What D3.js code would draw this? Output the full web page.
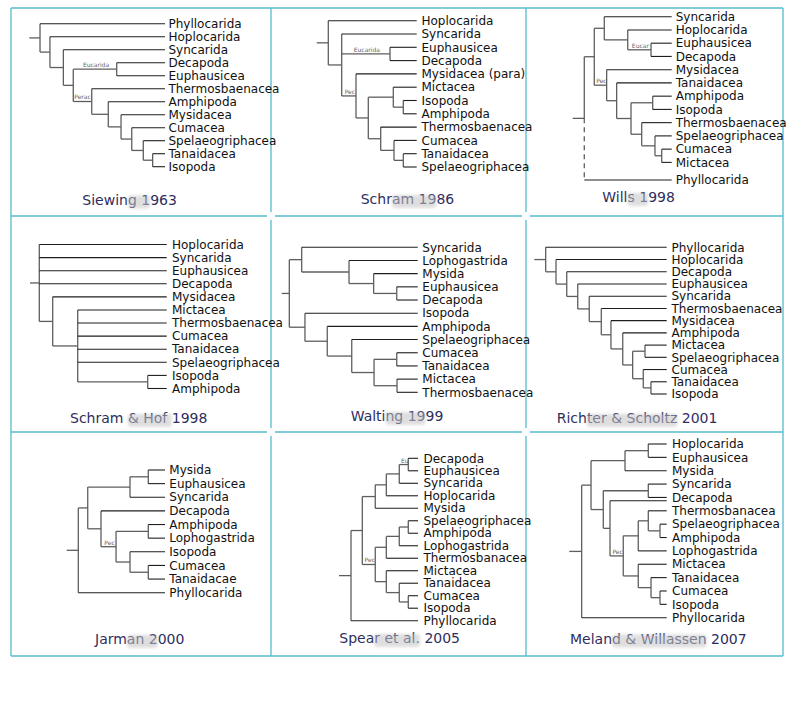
<!DOCTYPE html>
<html>
<head>
<meta charset="utf-8">
<script src="https://cdn.jsdelivr.net/npm/d3@7"></script>
<style>
  html, body { margin: 0; padding: 0; background: #fff; }
  svg { display: block; }
</style>
</head>
<body>
<svg id="chart" width="800" height="701"></svg>
<script>
// ---------------- DATA ----------------
const titles = [
  "Siewing 1963", "Schram 1986", "Wills 1998",
  "Schram & Hof 1998", "Walting 1999", "Richter & Scholtz 2001",
  "Jarman 2000", "Spear et al. 2005", "Meland & Willassen 2007"
];

// Newick trees; number after ':' on an internal node = relative node depth (0..100, leaves at 100)
// text after ')' = clade label written on the branch; "_" = unlabeled extra branch on previous row
const newickTrees = [
  "(Phyllocarida,(Hoplocarida,(Syncarida,((Decapoda,Euphausicea)Eucarida:64.4,(Thermosbaenacea,(Amphipoda,(Mysidacea,(Cumacea,(Spelaeogriphacea,(Tanaidacea,Isopoda):90.9):84.0):75.5):67.6):58.2)Perac.:46.0):32.4):25.1):15.2):7.9",
  "(Hoplocarida,(Syncarida,(Euphausicea,Decapoda)Eucarida:73.3,('Mysidacea (para)',((Mictacea,(Isopoda,Amphipoda):86.6):76.6,(Thermosbaenacea,(Cumacea,(Tanaidacea,Spelaeogriphacea):86.6):77.3):64):51.6)Pec:39.3):25):11.6",
  "(((Syncarida,(Hoplocarida,(Euphausicea,Decapoda)Eucar:79.1):55.6):31.9,(Mysidacea,(Tanaidacea,((Amphipoda,Isopoda):80.8,(Thermosbaenacea,(Spelaeogriphacea,(Cumacea,Mictacea):89.9):83.1):69.7):58.9):44.4)Pec:34.3):21.8,Phyllocarida):11.7",
  "(Hoplocarida,Syncarida,Euphausicea,Decapoda,(Mysidacea,(Mictacea,Thermosbaenacea,Cumacea,Tanaidacea,Spelaeogriphacea,(Isopoda,Amphipoda):86.1):34.9):16.6):6.8",
  "((Syncarida,(Lophogastrida,(Mysida,(Euphausicea,Decapoda):84.6):67.6):49.5):14.7,(Isopoda,(Amphipoda,(Spelaeogriphacea,((Cumacea,Tanaidacea):84.6,(Mictacea,Thermosbaenacea):84.8):67.9):51.5):33.5):17.1):5.6",
  "(Phyllocarida,(Hoplocarida,(Decapoda,(Euphausicea,(Syncarida,(Thermosbaenacea,(Mysidacea,(Amphipoda,((Mictacea,Spelaeogriphacea):83.6,(Cumacea,(Tanaidacea,Isopoda):88.1):82.3):74.3):66.8):57.9):50.6):41.5):32.8):24.5):16.4):8.6",
  "((((Mysida,Euphausicea):83,Syncarida):64.4,(Decapoda,((Amphipoda,Lophogastrida):83,(Isopoda,(Cumacea,Tanaidacae):83):64.4)Pec:50.2):34.9):21.4,Phyllocarida):11.8",
  "((((((Decapoda,Euphausicea)Eu:87.7,Syncarida):76.3,Hoplocarida):59.9,Mysida):45.9,((((Spelaeogriphacea,Amphipoda):87.7,Lophogastrida):76.3,Thermosbanacea):59.9,(Mictacea,(Tanaidacea,(Cumacea,Isopoda):87.7):76.3):59.9)Pec:45.9):29.5,Phyllocarida):15.2",
  "((((Hoplocarida,Euphausicea):81.1,Mysida):57.2,((Syncarida,Decapoda):81.1,(_,(((Thermosbanacea,(Spelaeogriphacea,Amphipoda):93.1):81.1,Lophogastrida):70.8,(Mictacea,(Tanaidacea,(Cumacea,Isopoda):93.1):83.9):70.8)Pec:55.4):41.8):34.9):22.3,Phyllocarida):12.7"
];

// extra row gap (in rows) before a leaf
const extraGaps = [{}, {}, {Phyllocarida: 0.33}, {}, {}, {}, {}, {}, {}];
// character range of each title covered by the grey smudge
const titleSmudge = [[6, 9], [4, 9], [4, 7], [7, 13], [5, 10], [4, 17], [4, 8], [4, 12], [5, 18]];

// ---------------- LAYOUT ----------------
const layout = [
  {stub: 29.3,  tip: 165,   text: 168.5, y0: 23.7,  y1: 166.7, tx: 82.3,  ty: 204.5, dashed: false},
  {stub: 316.7, tip: 416.7, text: 421.5, y0: 20.7,  y1: 167,   tx: 360.7, ty: 204,   dashed: false},
  {stub: 572.7, tip: 671.7, text: 675.7, y0: 16.7,  y1: 180,   tx: 602.3, ty: 202,   dashed: true},
  {stub: 30,    tip: 166.7, text: 172,   y0: 244.5, y1: 388.5, tx: 70,    ty: 423,   dashed: false},
  {stub: 281.7, tip: 417.7, text: 422.3, y0: 247.3, y1: 392.3, tx: 350.7, ty: 421,   dashed: false},
  {stub: 534.3, tip: 666.7, text: 671.5, y0: 247.3, y1: 394,   tx: 556.7, ty: 423,   dashed: false},
  {stub: 66.7,  tip: 165,   text: 169.3, y0: 470,   y1: 592.7, tx: 95,    ty: 644,   dashed: false},
  {stub: 339,   tip: 418,   text: 423.5, y0: 458.3, y1: 620.7, tx: 339.3, ty: 643,   dashed: false},
  {stub: 569.3, tip: 666.7, text: 672,   y0: 444,   y1: 617.7, tx: 570,   ty: 643.5, dashed: false}
];
const gridX = [11, 271, 526, 783];
const gridY = [8, 216, 432, 656];

const FONT = "'DejaVu Sans', 'Liberation Sans', sans-serif";
const LEAF_LINE = "#1e1e1e";
const INNER_LINE = "#5e5e5e";

// ---------------- PARSER ----------------
function parseNewick(s) {
  let i = 0;
  function readName() {
    if (s[i] === "'") {
      const j = s.indexOf("'", i + 1);
      const n = s.slice(i + 1, j);
      i = j + 1;
      return n;
    }
    let j = i;
    while (j < s.length && !",():".includes(s[j])) j++;
    const n = s.slice(i, j);
    i = j;
    return n;
  }
  function node() {
    const nd = {};
    if (s[i] === "(") {
      i++;
      nd.children = [];
      while (true) {
        nd.children.push(node());
        if (s[i] === ",") { i++; continue; }
        if (s[i] === ")") { i++; break; }
        break;
      }
      nd.label = readName();
    } else {
      nd.name = readName();
    }
    if (s[i] === ":") {
      i++;
      let j = i;
      while (j < s.length && /[0-9.]/.test(s[j])) j++;
      nd.depth = +s.slice(i, j);
      i = j;
    }
    return nd;
  }
  return node();
}

// ---------------- DRAW ----------------
const svg = d3.select("#chart");
const defs = svg.append("defs");
defs.append("filter").attr("id", "smudge")
  .attr("x", "-30%").attr("y", "-60%").attr("width", "160%").attr("height", "220%")
  .append("feGaussianBlur").attr("stdDeviation", 1.8);

// grid
const gridG = svg.append("g");
gridX.forEach(x => gridG.append("line")
  .attr("x1", x).attr("x2", x).attr("y1", gridY[0]).attr("y2", gridY[gridY.length - 1])
  .attr("stroke", "#55bccb").attr("stroke-width", 1.3));
gridY.forEach(y => gridG.append("line")
  .attr("x1", gridX[0]).attr("x2", gridX[gridX.length - 1]).attr("y1", y).attr("y2", y)
  .attr("stroke", "#55bccb").attr("stroke-width", 1.3));
gridX.slice(1, -1).forEach(x => gridY.slice(1, -1).forEach(y =>
  gridG.append("circle").attr("cx", x).attr("cy", y).attr("r", 4).attr("fill", "#fff")));

newickTrees.forEach((nw, p) => {
  const L = layout[p];
  const root = d3.hierarchy(parseNewick(nw));
  const gaps = extraGaps[p];

  // rows for leaves
  let r = 0, last = 0;
  root.leaves().forEach(leaf => {
    if (leaf.data.name === "_") {
      leaf.row = last + 0.25;
    } else {
      if (gaps[leaf.data.name]) r += gaps[leaf.data.name];
      leaf.row = r;
      last = r;
      r += 1;
    }
  });
  const maxRow = last;
  root.eachAfter(n => {
    if (n.children) n.row = (n.children[0].row + n.children[n.children.length - 1].row) / 2;
    n.dep = n.children ? n.data.depth : 100;
  });

  const x = d3.scaleLinear().domain([0, 100]).range([L.stub, L.tip]);
  const y = d3.scaleLinear().domain([0, maxRow]).range([L.y0, L.y1]);

  const g = svg.append("g");

  // root stub
  g.append("line")
    .attr("x1", x(0)).attr("x2", x(root.dep))
    .attr("y1", y(root.row)).attr("y2", y(root.row))
    .attr("stroke", INNER_LINE).attr("stroke-width", 1.3);

  root.each(n => {
    if (!n.children) return;
    const first = n.children[0], lastC = n.children[n.children.length - 1];
    if (L.dashed && n === root) {
      g.append("line")
        .attr("x1", x(n.dep)).attr("x2", x(n.dep))
        .attr("y1", y(first.row)).attr("y2", y(n.row))
        .attr("stroke", INNER_LINE).attr("stroke-width", 1.3);
      g.append("line")
        .attr("x1", x(n.dep)).attr("x2", x(n.dep))
        .attr("y1", y(n.row)).attr("y2", y(lastC.row))
        .attr("stroke", INNER_LINE).attr("stroke-width", 1.3)
        .attr("stroke-dasharray", "5,4");
    } else {
      g.append("line")
        .attr("x1", x(n.dep)).attr("x2", x(n.dep))
        .attr("y1", y(first.row)).attr("y2", y(lastC.row))
        .attr("stroke", INNER_LINE).attr("stroke-width", 1.3);
    }
    n.children.forEach(c => {
      g.append("line")
        .attr("x1", x(n.dep)).attr("x2", x(c.dep))
        .attr("y1", y(c.row)).attr("y2", y(c.row))
        .attr("stroke", c.children ? INNER_LINE : LEAF_LINE)
        .attr("stroke-width", c.children ? 1.3 : 1.1);
      if (c.children && c.data.label) {
        g.append("text")
          .attr("x", (x(n.dep) + x(c.dep)) / 2 + 1)
          .attr("y", y(c.row) - 2)
          .attr("text-anchor", "middle")
          .attr("font-family", FONT)
          .attr("font-size", 6)
          .attr("fill", "#666")
          .text(c.data.label);
      }
    });
  });

  // leaf labels
  g.selectAll("text.leaf")
    .data(root.leaves().filter(l => l.data.name !== "_"))
    .join("text")
    .attr("class", "leaf")
    .attr("x", L.text)
    .attr("y", d => y(d.row))
    .attr("dy", "0.35em")
    .attr("font-family", FONT)
    .attr("font-size", 12)
    .attr("fill", "#111")
    .text(d => d.data.name);

  // title with a grey blurred smudge lying over part of it
  const title = g.append("text")
    .attr("x", L.tx).attr("y", L.ty)
    .attr("font-family", FONT)
    .attr("font-size", 14)
    .attr("fill", "#2e2e5e")
    .text(titles[p]);
  const [a, b] = titleSmudge[p];
  const node = title.node();
  const sx = node.getStartPositionOfChar(a).x;
  const ex = node.getEndPositionOfChar(b - 1).x;
  g.append("rect")
    .attr("x", sx).attr("y", L.ty - 9)
    .attr("width", Math.max(2, ex - sx)).attr("height", 13)
    .attr("rx", 3)
    .attr("fill", "#c4c4c4")
    .attr("opacity", 0.55)
    .attr("filter", "url(#smudge)");
});
</script>
</body>
</html>
